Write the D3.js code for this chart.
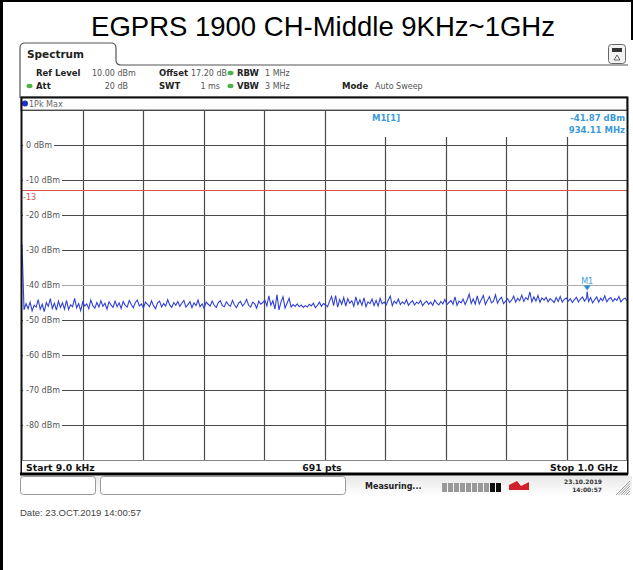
<!DOCTYPE html>
<html>
<head>
<meta charset="utf-8">
<script src="https://cdn.jsdelivr.net/npm/d3@7/dist/d3.min.js"></script>
<style>
  html, body { margin: 0; padding: 0; background: #fff; }
  svg { display: block; }
  text { font-family: "DejaVu Sans", sans-serif; }
</style>
</head>
<body>
<svg id="chart" width="633" height="570"></svg>
<script>
// Sweep settings
const startFreqMHz = 0.009;
const stopFreqMHz = 1000;
const refLevel = 10;
const bottomLevel = -90;
const levelTicks = [0, -10, -20, -30, -40, -50, -60, -70, -80];
const limitLevel = -13;

// Marker M1
const markerFreqMHz = 934.11;
const markerLevel = -41.87;

// Max-hold trace, dBm, equally spaced from start to stop
const traceLevels = [
  -28.5, -47.1, -45.3, -46.8, -44.9, -47.4, -45.8, -46.3, -44.2, -46.9, -45.5, -47.6, -45.0, -46.1, -43.9, -46.7, -45.2, -47.2, -44.6, -46.4,
  -45.1, -46.9, -44.4, -47.0, -45.7, -46.2, -43.8, -46.5, -45.3, -47.3, -44.9, -46.0, -45.4, -46.8, -44.3, -45.9, -46.6, -45.0, -46.3, -44.5,
  -46.1, -45.2, -46.9, -44.8, -45.7, -46.4, -44.6, -46.2, -45.1, -46.7, -44.7, -45.8, -46.3, -44.4, -45.6, -46.5, -45.0, -44.3, -46.0, -45.4,
  -46.6, -44.9, -45.5, -46.2, -44.5, -45.9, -46.8, -45.1, -44.6, -46.3, -45.3, -46.0, -44.2, -45.7, -46.4, -45.0, -45.8, -44.7, -46.1, -45.2,
  -44.4, -46.3, -45.6, -44.8, -46.5, -45.1, -45.9, -44.3, -46.2, -45.4, -46.7, -44.9, -45.5, -46.0, -44.6, -45.8, -46.4, -45.0, -44.5, -45.9,
  -46.2, -44.8, -45.6, -46.1, -44.4, -45.7, -46.5, -45.2, -44.7, -46.0, -45.3, -44.1, -45.8, -46.3, -44.9, -45.4, -46.6, -44.6, -45.5, -45.0,
  -44.3, -46.0, -43.1, -45.8, -44.5, -46.9, -42.7, -47.1, -44.9, -43.4, -46.6, -45.2, -43.8, -46.3, -45.6, -46.1, -45.4, -46.2, -45.7, -46.4,
  -45.9, -46.3, -45.5, -46.0, -45.2, -46.5, -45.8, -44.9, -46.1, -45.3, -45.7, -46.2, -44.6, -43.3, -45.9, -43.0, -46.3, -44.1, -45.5, -43.6,
  -46.0, -43.9, -45.2, -44.5, -46.1, -43.4, -45.6, -44.2, -45.8, -43.7, -46.2, -44.8, -45.3, -44.0, -45.9, -44.4, -46.0, -43.8, -45.4, -44.9,
  -45.7, -44.3, -43.2, -45.9, -44.6, -45.3, -44.0, -45.6, -44.8, -45.4, -44.2, -45.8, -45.0, -44.5, -45.7, -44.9, -45.3, -44.4, -45.9, -45.1,
  -44.6, -45.5, -44.9, -45.8, -44.3, -45.2, -45.7, -44.7, -45.4, -44.1, -45.6, -45.0, -44.4, -45.5, -43.4, -45.8, -44.6, -45.1, -44.0, -45.6,
  -44.3, -42.6, -45.3, -44.0, -45.5, -43.1, -45.4, -44.2, -43.0, -45.6, -44.4, -43.3, -45.1, -44.7, -42.8, -45.2, -44.1, -43.5, -45.3, -44.6,
  -43.9, -45.0, -44.3, -43.2, -44.9, -43.8, -44.5, -42.9, -44.7, -43.6, -44.2, -42.0, -44.8, -43.4, -44.6, -43.0, -44.9, -43.7, -44.3, -43.5,
  -44.8, -43.9, -44.4, -45.0, -43.6, -44.7, -43.3, -44.9, -44.1, -43.7, -44.6, -43.9, -45.0, -44.2, -43.5, -44.8, -44.0, -43.4, -44.6, -43.8,
  -44.7, -43.6, -45.1, -44.2, -43.4, -44.9, -43.8, -44.5, -43.1, -44.8, -44.0, -43.6, -44.7, -43.9, -44.4, -43.3, -44.8, -44.1, -43.7, -44.5
];

// Instrument settings rows: label, value, label x, value x, value anchor, status dot
const headerRow1 = [
  { label: "Ref Level", value: "10.00 dBm", lx: 36, vx: 92, anchor: "start", dot: false },
  { label: "Offset", value: "17.20 dB", lx: 159, vx: 191, anchor: "start", dot: false },
  { label: "RBW", value: "1 MHz", lx: 237, vx: 265, anchor: "start", dot: true }
];
const headerRow2 = [
  { label: "Att", value: "20 dB", lx: 36, vx: 128, anchor: "end", dot: true },
  { label: "SWT", value: "1 ms", lx: 159, vx: 220, anchor: "end", dot: false },
  { label: "VBW", value: "3 MHz", lx: 237, vx: 265, anchor: "start", dot: true },
  { label: "Mode", value: "Auto Sweep", lx: 342, vx: 375, anchor: "start", dot: false }
];

const svg = d3.select("#chart");

// Plot rectangle
const plotL = 22, plotR = 627, plotT = 110, plotB = 460;

const x = d3.scaleLinear().domain([startFreqMHz, stopFreqMHz]).range([plotL, plotR]);
const y = d3.scaleLinear().domain([refLevel, bottomLevel]).range([plotT, plotB]);

// Outer document frame
svg.append("rect").attr("x", 0).attr("y", 0).attr("width", 3).attr("height", 570).attr("fill", "#000");
svg.append("rect").attr("x", 0).attr("y", 0).attr("width", 633).attr("height", 2).attr("fill", "#000");
svg.append("rect").attr("x", 631).attr("y", 0).attr("width", 2).attr("height", 40).attr("fill", "#000");

svg.append("text")
  .attr("x", 323).attr("y", 36)
  .attr("text-anchor", "middle")
  .style("font-family", "'Liberation Sans', Arial, sans-serif")
  .style("font-size", "27.5px")
  .attr("fill", "#000")
  .text("EGPRS 1900 CH-Middle 9KHz~1GHz");

// Spectrum tab
svg.append("path")
  .attr("d", "M20,98 L20,48 Q20,43 25,43 L111,43 Q116,43 116,48 L116,60 Q116,65 121,65 L628,65")
  .attr("fill", "none").attr("stroke", "#555").attr("stroke-width", 1.2);
svg.append("text").attr("x", 27).attr("y", 58)
  .style("font-size", "10.5px").style("font-weight", "bold").attr("fill", "#222").text("Spectrum");

// Window icon, top right
svg.append("rect").attr("x", 608.5).attr("y", 44.5).attr("width", 17).attr("height", 19).attr("rx", 3)
  .attr("fill", "#f2f2f2").attr("stroke", "#666");
svg.append("rect").attr("x", 612).attr("y", 48).attr("width", 10).attr("height", 4).attr("fill", "#333");
svg.append("path").attr("d", "M614,60 L617,55 L620,60 Z").attr("fill", "none").attr("stroke", "#444").attr("stroke-width", 0.8);

function headerRow(rows, yy) {
  const g = svg.append("g");
  rows.forEach(r => {
    if (r.dot) {
      g.append("ellipse").attr("cx", r.lx - 6.5).attr("cy", yy - 3).attr("rx", 3).attr("ry", 2.2).attr("fill", "#4bb34b");
    }
    g.append("text").attr("x", r.lx).attr("y", yy)
      .style("font-size", "8.5px").style("font-weight", "bold").attr("fill", "#222").text(r.label);
    g.append("text").attr("x", r.vx).attr("y", yy).attr("text-anchor", r.anchor)
      .style("font-size", "8px").attr("fill", "#555").text(r.value);
  });
}
headerRow(headerRow1, 76);
headerRow(headerRow2, 89);

// Trace label row
svg.append("rect").attr("x", 21).attr("y", 97).attr("width", 606).attr("height", 13)
  .attr("fill", "#fff").attr("stroke", "#666").attr("stroke-width", 1);
svg.append("circle").attr("cx", 25).attr("cy", 103.5).attr("r", 3).attr("fill", "#1f2fc8");
svg.append("text").attr("x", 29).attr("y", 107).style("font-size", "8px").attr("fill", "#666").text("1Pk Max");

// Diagram background
svg.append("rect").attr("x", plotL).attr("y", plotT).attr("width", plotR - plotL).attr("height", plotB - plotT).attr("fill", "#fff");

// Vertical divisions
const freqDivs = d3.range(1, 10).map(k => startFreqMHz + k * (stopFreqMHz - startFreqMHz) / 10);
svg.append("g").selectAll("line").data(freqDivs).join("line")
  .attr("x1", d => Math.round(x(d)) + 0.5).attr("x2", d => Math.round(x(d)) + 0.5)
  .attr("y1", plotT).attr("y2", plotB)
  .attr("stroke", "#4a4a4a").attr("stroke-width", 1.2);

// Horizontal divisions
const levelDivs = d3.range(refLevel, bottomLevel - 1, -10);
svg.append("g").selectAll("line").data(levelDivs).join("line")
  .attr("x1", plotL).attr("x2", plotR)
  .attr("y1", d => Math.round(y(d)) + 0.5).attr("y2", d => Math.round(y(d)) + 0.5)
  .attr("stroke", d => d === -40 ? "#aaa" : "#4a4a4a").attr("stroke-width", 1.2);

// Marker info panel covers the grid top-right
svg.append("rect").attr("x", 340).attr("y", plotT + 1).attr("width", plotR - 340).attr("height", 26).attr("fill", "#fff");

// Level labels with their own background
const lblG = svg.append("g");
levelTicks.forEach(v => {
  const t = lblG.append("text").attr("x", 26).attr("y", y(v) + 3)
    .style("font-size", "8px").attr("fill", "#555").text(v + " dBm");
  const w = t.node().getComputedTextLength();
  lblG.insert("rect", "text").attr("x", plotL + 1).attr("y", y(v) - 5).attr("width", w + 5).attr("height", 10).attr("fill", "#fff");
});

// Limit display line
svg.append("line").attr("x1", plotL).attr("x2", plotR)
  .attr("y1", y(limitLevel)).attr("y2", y(limitLevel))
  .attr("stroke", "#e0504a").attr("stroke-width", 1);
svg.append("text").attr("x", 23).attr("y", y(limitLevel) + 9)
  .style("font-size", "8px").attr("fill", "#e0504a").text(limitLevel);

// Trace
const n = traceLevels.length;
const pts = traceLevels.map((v, i) => [startFreqMHz + i * (stopFreqMHz - startFreqMHz) / (n - 1), v]);
pts.push([markerFreqMHz, markerLevel]);
pts.sort((a, b) => a[0] - b[0]);
svg.append("path").datum(pts)
  .attr("d", d3.line().x(d => x(d[0])).y(d => y(d[1])))
  .attr("fill", "none").attr("stroke", "#3040d8").attr("stroke-width", 1.1);

// Marker M1
const mx = x(markerFreqMHz), my = y(markerLevel);
svg.append("path").attr("d", `M${mx - 3.5},${my - 6} L${mx + 3.5},${my - 6} L${mx},${my - 1} Z`).attr("fill", "#2a8fd6");
svg.append("text").attr("x", mx).attr("y", my - 8).attr("text-anchor", "middle")
  .style("font-size", "8px").attr("fill", "#3a9ad9").text("M1");

svg.append("text").attr("x", 372).attr("y", 121).style("font-size", "8.5px").style("font-weight", "bold")
  .attr("fill", "#3a9ad9").text("M1[1]");
svg.append("text").attr("x", 625).attr("y", 121).attr("text-anchor", "end").style("font-size", "8.5px").style("font-weight", "bold")
  .attr("fill", "#3a9ad9").text(markerLevel.toFixed(2) + " dBm");
svg.append("text").attr("x", 625).attr("y", 133).attr("text-anchor", "end").style("font-size", "8.5px").style("font-weight", "bold")
  .attr("fill", "#3a9ad9").text(markerFreqMHz.toFixed(2) + " MHz");

// Diagram frame
svg.append("rect").attr("x", plotL - 0.5).attr("y", 97.5).attr("width", plotR - plotL + 1).attr("height", 376)
  .attr("fill", "none").attr("stroke", "#111").attr("stroke-width", 2);

// Footer with sweep span
svg.append("rect").attr("x", plotL).attr("y", 461).attr("width", plotR - plotL).attr("height", 12).attr("fill", "#fff");
svg.append("line").attr("x1", plotL).attr("x2", plotR).attr("y1", 460.5).attr("y2", 460.5).attr("stroke", "#888");
svg.append("line").attr("x1", 20).attr("x2", plotR + 1).attr("y1", 474).attr("y2", 474).attr("stroke", "#000").attr("stroke-width", 3);
svg.append("text").attr("x", 26).attr("y", 470.5).style("font-size", "9.3px").style("font-weight", "bold").attr("fill", "#111").text("Start 9.0 kHz");
svg.append("text").attr("x", 322).attr("y", 470.5).attr("text-anchor", "middle").style("font-size", "9.3px").style("font-weight", "bold").attr("fill", "#111").text("691 pts");
svg.append("text").attr("x", 618).attr("y", 470.5).attr("text-anchor", "end").style("font-size", "9.3px").style("font-weight", "bold").attr("fill", "#111").text("Stop 1.0 GHz");

// Status bar
const defs = svg.append("defs");
const grad = defs.append("linearGradient").attr("id", "sb").attr("x1", 0).attr("x2", 0).attr("y1", 0).attr("y2", 1);
grad.append("stop").attr("offset", "0%").attr("stop-color", "#e8e8e8");
grad.append("stop").attr("offset", "100%").attr("stop-color", "#ffffff");
svg.append("rect").attr("x", 20).attr("y", 476).attr("width", 612).attr("height", 20).attr("fill", "url(#sb)");
svg.append("rect").attr("x", 20.5).attr("y", 476.5).attr("width", 75).attr("height", 18).attr("rx", 3).attr("fill", "#fff").attr("stroke", "#999");
svg.append("rect").attr("x", 100.5).attr("y", 476.5).attr("width", 245).attr("height", 18).attr("rx", 3).attr("fill", "#fff").attr("stroke", "#999");
svg.append("text").attr("x", 365).attr("y", 489).style("font-size", "8px").style("font-weight", "bold").attr("fill", "#222").text("Measuring...");
svg.append("g").selectAll("rect").data(d3.range(10)).join("rect")
  .attr("x", i => 442 + i * 6).attr("y", 483).attr("width", 5).attr("height", 9)
  .attr("fill", i => i >= 8 ? "#111" : "#999");
svg.append("path").attr("d", "M509,485 L517,481 L521,486 L529,482 L529,490 L509,490 Z").attr("fill", "#d0202a");
svg.append("text").attr("x", 602).attr("y", 484).attr("text-anchor", "end").style("font-size", "6px").style("font-weight", "bold").attr("fill", "#333").text("23.10.2019");
svg.append("text").attr("x", 602).attr("y", 492).attr("text-anchor", "end").style("font-size", "6px").style("font-weight", "bold").attr("fill", "#333").text("14:00:57");
svg.append("g").selectAll("line").data(d3.range(6)).join("line")
  .attr("x1", i => 616 + i * 2.5).attr("y1", 495).attr("x2", 630).attr("y2", i => 481 + i * 2.5)
  .attr("stroke", "#888").attr("stroke-width", 0.8);

svg.append("text").attr("x", 20).attr("y", 516)
  .style("font-family", "'Liberation Sans', Arial, sans-serif").style("font-size", "9.5px").attr("fill", "#444")
  .text("Date: 23.OCT.2019  14:00:57");
</script>
</body>
</html>
